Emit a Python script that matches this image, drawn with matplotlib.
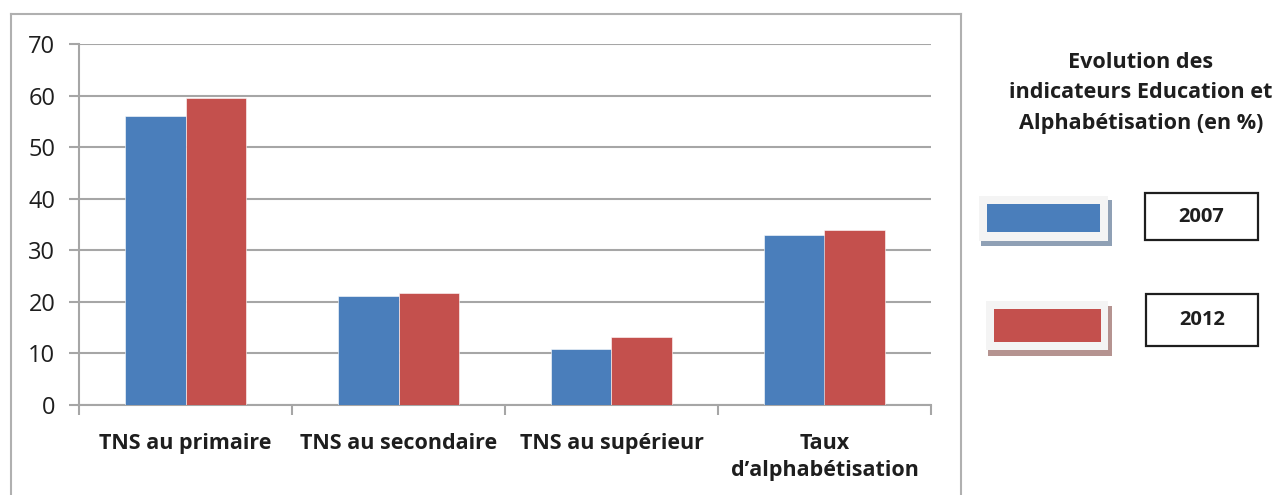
import matplotlib
matplotlib.use("Agg")
import matplotlib.pyplot as plt
from matplotlib.patches import Rectangle
import numpy as np

categories = ["TNS au primaire", "TNS au secondaire", "TNS au supérieur", "Taux\nd\u2019alphabétisation"]
series_names = ["2007", "2012"]
values_2007 = [56.0, 21.2, 10.9, 32.9]
values_2012 = [59.5, 21.7, 13.1, 34.0]
title = "Evolution des\nindicateurs Education et\nAlphabétisation (en %)"

BLUE = "#4a7ebb"
RED = "#c4504d"
GRID = "#a6a6a6"
FONT = "Open Sans"
TXT = "#1e1e1e"

W, H = 1276, 495
fig = plt.figure(figsize=(W / 100, H / 100), dpi=100)

def fx(px):
    return px / W

def fy(py):
    return 1 - py / H

# outer border
for xs, ys in [([11, 11], [14, 495]), ([11, 961], [14, 14]), ([961, 961], [14, 495])]:
    fig.add_artist(plt.Line2D([fx(v) for v in xs], [fy(v) for v in ys], color="#b0b0b0", lw=1.5))

ax = fig.add_axes([fx(79), fy(405), fx(931) - fx(79), fy(44) - fy(405)])
x = np.arange(len(categories))
bw = 0.286
ax.bar(x - bw / 2, values_2007, bw, color=BLUE, edgecolor="white", linewidth=0.4, zorder=3)
ax.bar(x + bw / 2, values_2012, bw, color=RED, edgecolor="white", linewidth=0.4, zorder=3)

ax.set_xlim(-0.5, len(categories) - 0.5)
ax.set_ylim(0, 70)
ax.set_yticks(range(0, 71, 10))
ax.yaxis.grid(True, color=GRID, lw=1.5, zorder=0)
ax.set_axisbelow(True)
for s in ["top", "right"]:
    ax.spines[s].set_visible(False)
for s in ["left", "bottom"]:
    ax.spines[s].set_color(GRID)
    ax.spines[s].set_linewidth(1.5)

ax.set_xticks(np.arange(-0.5, len(categories), 1.0))
ax.set_xticklabels([])
ax.set_xticks(x, minor=True)
ax.set_xticklabels(categories, minor=True, fontfamily=FONT, fontweight="bold", fontsize=15.5,
                   color=TXT, linespacing=1.4)
ax.tick_params(axis="x", which="major", length=7, width=1.5, color=GRID)
ax.tick_params(axis="x", which="minor", length=0, pad=20)
ax.tick_params(axis="y", length=7, width=1.5, color=GRID, labelsize=17, pad=10, labelcolor=TXT)
for lab in ax.get_yticklabels():
    lab.set_fontfamily(FONT)

# title
fig.text(fx(1141), fy(93), title, ha="center", va="center", fontfamily=FONT, fontweight="bold",
         fontsize=15.6, color=TXT, linespacing=1.6)

# legend
color_shadow = {BLUE: "#8fa0b5", RED: "#b59390"}

def legend_entry(bg, shadow, swatch, color, box, label):
    sx, sy, sw, sh = shadow
    fig.add_artist(Rectangle((fx(sx), fy(sy + sh)), fx(sw), sh / H, color=color_shadow[color], lw=0))
    bx, by, bw_, bh = bg
    fig.add_artist(Rectangle((fx(bx), fy(by + bh)), fx(bw_), bh / H, color="#f4f4f4", lw=0))
    rx, ry, rw, rh = swatch
    fig.add_artist(Rectangle((fx(rx), fy(ry + rh)), fx(rw), rh / H, color=color, lw=0))
    kx, ky, kw, kh = box
    fig.add_artist(Rectangle((fx(kx), fy(ky + kh)), fx(kw), kh / H, facecolor="white", edgecolor=TXT, lw=1.6))
    fig.text(fx(kx + kw / 2), fy(ky + kh / 2), label, ha="center", va="center", fontfamily=FONT,
             fontweight="bold", fontsize=14.5, color=TXT)

legend_entry((979, 196, 129, 45), (981, 200, 131, 46), (987, 204, 113, 28), BLUE, (1145, 193, 113, 47), series_names[0])
legend_entry((986, 301, 122, 49), (988, 306, 124, 50), (994, 309, 107, 33), RED, (1146, 294, 112, 52), series_names[1])

fig.savefig("out.png", dpi=100)
